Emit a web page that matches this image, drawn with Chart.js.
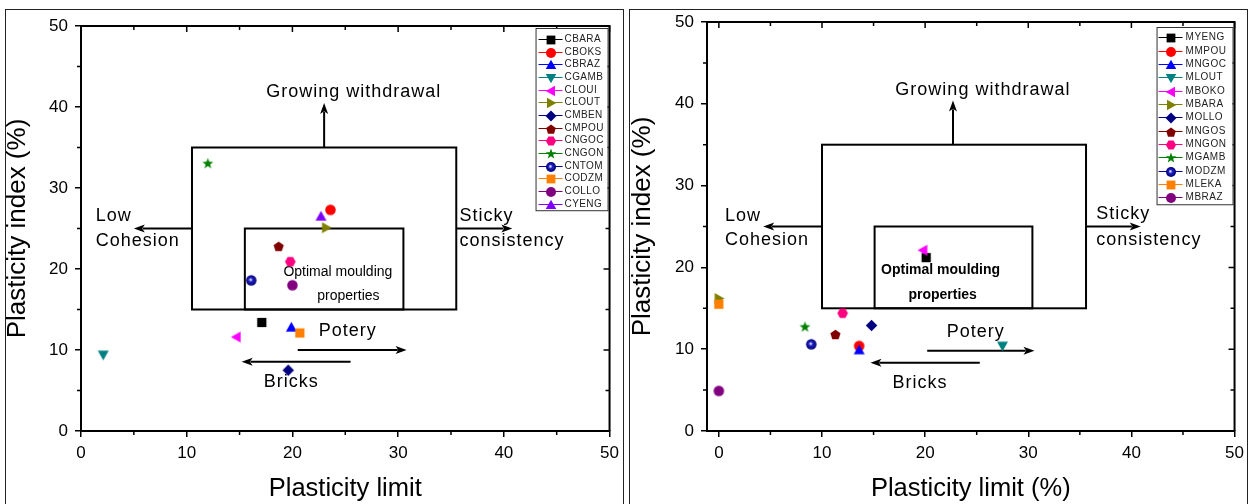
<!DOCTYPE html>
<html><head><meta charset="utf-8">
<script src="https://cdn.jsdelivr.net/npm/chart.js@4.4.0/dist/chart.umd.min.js"></script>
<style>
html,body{margin:0;padding:0;background:#fff;width:1250px;height:504px;overflow:hidden;}
.frame{position:absolute;border:1px solid #222;box-sizing:border-box;}
.cv{position:absolute;top:0;height:504px;width:625px;}
canvas{display:block;}
</style></head><body>
<div class="frame" style="left:5px;top:9px;width:619px;height:500px"></div>
<div class="frame" style="left:629px;top:9px;width:619px;height:500px"></div>
<div class="cv" style="left:0"><canvas id="c1" width="625" height="504"></canvas></div>
<div class="cv" style="left:625px"><canvas id="c2" width="625" height="504"></canvas></div>
<script>
// ---------- data ----------
const leftNames = ['CBARA','CBOKS','CBRAZ','CGAMB','CLOUI','CLOUT','CMBEN','CMPOU','CNGOC','CNGON','CNTOM','CODZM','COLLO','CYENG'];
const leftPL    = [17.1, 23.6, 19.9, 2.1, 14.7, 23.2, 19.6, 18.7, 19.8, 12.0, 16.1, 20.7, 20.0, 22.7];
const leftPI    = [13.4, 27.3, 12.8, 9.4, 11.6, 25.1, 7.5, 22.8, 20.9, 33.0, 18.6, 12.1, 18.0, 26.5];

const rightNames = ['MYENG','MMPOU','MNGOC','MLOUT','MBOKO','MBARA','MOLLO','MNGOS','MNGON','MGAMB','MODZM','MLEKA','MBRAZ'];
const rightPL    = [20.1, 13.6, 13.6, 27.5, 19.8, 0.0, 14.8, 11.3, 12.0, 8.35, 8.96, 0.0, 0.0];
const rightPI    = [21.2, 10.4, 9.9, 10.4, 22.1, 16.2, 12.9, 11.8, 14.4, 12.7, 10.6, 15.5, 4.9];

const xTicks = [0, 10, 20, 30, 40, 50];
const yTicks = [0, 10, 20, 30, 40, 50];

// ---------- styles ----------
const FONT = "'Liberation Sans', Arial, sans-serif";
const leftShapes = ['square','circle','triangle','triDown','triLeft','triRight','diamond','pentagon','hexagon','star','sphere','square','circle','triangle'];
const leftColors = ['#000000','#FF0000','#0000FF','#008080','#FF00FF','#808000','#000080','#800000','#FF0080','#008000','#0000A0','#FF8000','#800080','#8000FF'];
const rightShapes = ['square','circle','triangle','triDown','triLeft','triRight','diamond','pentagon','hexagon','star','sphere','square','circle'];
const rightColors = ['#000000','#FF0000','#0000FF','#008080','#FF00FF','#808000','#000080','#800000','#FF0080','#008000','#0000A0','#FF8000','#800080'];

function polyPts(g, pts){ g.moveTo(pts[0][0],pts[0][1]); for(let i=1;i<pts.length;i++) g.lineTo(pts[i][0],pts[i][1]); g.closePath(); }
function regPoly(cx,cy,r,n,start){ const p=[]; for(let k=0;k<n;k++){const a=(start+360*k/n)*Math.PI/180; p.push([cx+r*Math.cos(a),cy+r*Math.sin(a)]);} return p; }
function makeMarker(shape,color,s){
  const size = Math.ceil(s)+4;
  const c=document.createElement('canvas'); c.width=size; c.height=size;
  const g=c.getContext('2d'); const cx=size/2, cy=size/2, r=s/2;
  g.fillStyle=color; g.beginPath();
  switch(shape){
    case 'square': g.rect(cx-r*0.88,cy-r*0.88,1.76*r,1.76*r); break;
    case 'circle': g.arc(cx,cy,r,0,2*Math.PI); break;
    case 'triangle': polyPts(g,[[cx,cy-r*1.05],[cx+r*1.05,cy+r*0.8],[cx-r*1.05,cy+r*0.8]]); break;
    case 'triDown': polyPts(g,[[cx-r*1.05,cy-r*0.8],[cx+r*1.05,cy-r*0.8],[cx,cy+r*1.05]]); break;
    case 'triLeft': polyPts(g,[[cx-r*1.05,cy],[cx+r*0.8,cy-r*1.05],[cx+r*0.8,cy+r*1.05]]); break;
    case 'triRight': polyPts(g,[[cx+r*1.05,cy],[cx-r*0.8,cy-r*1.05],[cx-r*0.8,cy+r*1.05]]); break;
    case 'diamond': polyPts(g,[[cx,cy-r*1.1],[cx+r*1.1,cy],[cx,cy+r*1.1],[cx-r*1.1,cy]]); break;
    case 'pentagon': polyPts(g,regPoly(cx,cy+0.5,r*1.02,5,-90)); break;
    case 'hexagon': polyPts(g,regPoly(cx,cy,r*1.02,6,0)); break;
    case 'star': { const p=[]; for(let k=0;k<10;k++){const a=(-90+36*k)*Math.PI/180; const rr=(k%2===0)?r*1.1:r*0.45; p.push([cx+rr*Math.cos(a),cy+rr*Math.sin(a)]);} polyPts(g,p); break; }
    case 'sphere': {
      const gr=g.createRadialGradient(cx-r*0.15,cy-r*0.15,0,cx,cy,r);
      gr.addColorStop(0,'#ffffff'); gr.addColorStop(0.18,'#a0a0ff'); gr.addColorStop(0.4,'#2020c0'); gr.addColorStop(1,'#000070');
      g.fillStyle=gr; g.arc(cx,cy,r,0,2*Math.PI); break; }
  }
  g.fill();
  return c;
}

// ---------- plugins ----------
const annotPlugin = {
  id:'annot',
  beforeDatasetsDraw(chart,args,o){
    const {ctx, scales:{x,y}} = chart;
    const X=v=>x.getPixelForValue(v), Y=v=>y.getPixelForValue(v);
    ctx.save();
    ctx.strokeStyle='#000'; ctx.fillStyle='#000'; ctx.lineWidth=2;
    (o.boxes||[]).forEach(b=>{ ctx.strokeRect(X(b[0]),Y(b[3]),X(b[2])-X(b[0]),Y(b[1])-Y(b[3])); });
    (o.arrows||[]).forEach(a=>{
      const x0=X(a[0]),y0=Y(a[1]),x1=X(a[2]),y1=Y(a[3]);
      const dx=x1-x0, dy=y1-y0, L=Math.hypot(dx,dy), ux=dx/L, uy=dy/L;
      const hl=11, hw=4;
      ctx.beginPath(); ctx.moveTo(x0,y0); ctx.lineTo(x1-ux*hl*0.8,y1-uy*hl*0.8); ctx.stroke();
      ctx.beginPath(); ctx.moveTo(x1,y1); ctx.lineTo(x1-ux*hl-uy*hw,y1-uy*hl+ux*hw); ctx.lineTo(x1-ux*hl*0.75,y1-uy*hl*0.75); ctx.lineTo(x1-ux*hl+uy*hw,y1-uy*hl-ux*hw); ctx.closePath(); ctx.fill();
    });
    (o.texts||[]).forEach(t=>{
      ctx.font=t.font; ctx.letterSpacing=t.ls||'0px'; ctx.textAlign=t.align||'center'; ctx.textBaseline='middle';
      ctx.fillStyle='#000'; ctx.fillText(t.text,X(t.x),Y(t.y));
    });
    ctx.restore();
  }
};
const framePlugin = {
  id:'frame',
  afterDatasetsDraw(chart){
    const {ctx, chartArea:ca, scales:{x,y}} = chart;
    ctx.save(); ctx.strokeStyle='#000';
    ctx.lineWidth=2;
    ctx.beginPath(); ctx.moveTo(ca.left,ca.top); ctx.lineTo(ca.right,ca.top); ctx.lineTo(ca.right,ca.bottom); ctx.stroke();
    ctx.lineWidth=1.5;
    const minor=a=>a.slice(0,-1).map((v,i)=>(v+a[i+1])/2);
    ctx.beginPath();
    xTicks.forEach(v=>{const p=x.getPixelForValue(v); ctx.moveTo(p,ca.top); ctx.lineTo(p,ca.top+6);});
    minor(xTicks).forEach(v=>{const p=x.getPixelForValue(v); ctx.moveTo(p,ca.top); ctx.lineTo(p,ca.top+4); ctx.moveTo(p,ca.bottom); ctx.lineTo(p,ca.bottom+4);});
    yTicks.forEach(v=>{const p=y.getPixelForValue(v); ctx.moveTo(ca.right,p); ctx.lineTo(ca.right-6,p);});
    minor(yTicks).forEach(v=>{const p=y.getPixelForValue(v); ctx.moveTo(ca.right,p); ctx.lineTo(ca.right-4,p); ctx.moveTo(ca.left,p); ctx.lineTo(ca.left-4,p);});
    ctx.stroke();
    ctx.restore();
  }
};
const legendPlugin = {
  id:'boxLegend',
  afterDraw(chart,args,o){
    const {ctx, chartArea:ca} = chart;
    const ds=chart.data.datasets, n=ds.length;
    const bx=ca.right-o.right-o.width, by=ca.top+o.top;
    const h=o.first+o.step*(n-1)+o.tail;
    ctx.save();
    ctx.fillStyle='#fff'; ctx.fillRect(bx,by,o.width,h);
    ctx.strokeStyle='#333'; ctx.lineWidth=1; ctx.strokeRect(bx+0.5,by+0.5,o.width,h);
    ctx.font='10px '+FONT; ctx.letterSpacing=o.ls; ctx.textAlign='left'; ctx.textBaseline='middle';
    ds.forEach((d,i)=>{
      const yy=Math.round(by+o.first+o.step*i)+0.5;
      ctx.strokeStyle=d.borderColor; ctx.lineWidth=1;
      ctx.beginPath(); ctx.moveTo(bx+o.lineX0,yy); ctx.lineTo(bx+o.lineX1,yy); ctx.stroke();
      const m=d.legendMarker; ctx.drawImage(m,Math.round(bx+o.markX-m.width/2),Math.round(yy-m.height/2));
      ctx.fillStyle='#222'; ctx.fillText(d.label,bx+o.textX,yy);
    });
    ctx.restore();
  }
};

function makeChart(id,names,xs,ys,shapes,colors,cfg){
  const datasets=names.map((n,i)=>({
    label:n, data:[{x:xs[i],y:ys[i]}],
    pointStyle:makeMarker(shapes[i],colors[i],10.5),
    legendMarker:makeMarker(shapes[i],colors[i],10),
    backgroundColor:colors[i], borderColor:colors[i], pointRadius:5, order:-i
  }));
  return new Chart(document.getElementById(id),{
    type:'scatter',
    data:{datasets},
    options:{
      responsive:false, animation:false, events:[],
      layout:{padding:{left:0,right:cfg.padRight,top:cfg.padTop,bottom:0}},
      plugins:{legend:{display:false}, tooltip:{enabled:false}, annot:cfg.annot, boxLegend:cfg.legend},
      scales:{
        x:{type:'linear', position:'bottom', min:cfg.xMin, max:50,
           afterBuildTicks:s=>{s.ticks=xTicks.map(v=>({value:v}));},
           afterFit:s=>{s.height=cfg.xH;},
           grid:{drawOnChartArea:false, drawTicks:true, tickLength:6, color:'#000', lineWidth:1.5},
           border:{display:true,color:'#000',width:2},
           ticks:{color:'#000', font:{family:FONT,size:17}, padding:6, maxRotation:0, autoSkip:false},
           title:{display:true, text:cfg.xTitle, color:'#000', font:{family:FONT,size:cfg.xTitleSize}, padding:{top:0,bottom:0}}},
        y:{type:'linear', position:'left', min:0, max:50,
           afterBuildTicks:s=>{s.ticks=yTicks.map(v=>({value:v}));},
           afterFit:s=>{s.width=cfg.yW;},
           grid:{drawOnChartArea:false, drawTicks:true, tickLength:6, color:'#000', lineWidth:1.5},
           border:{display:true,color:'#000',width:2},
           ticks:{color:'#000', font:{family:FONT,size:17}, padding:7, autoSkip:false},
           title:{display:true, text:'Plasticity index (%)', color:'#000', font:{family:FONT,size:26}, padding:{top:2,bottom:0}}}
      }
    },
    plugins:[annotPlugin, framePlugin, legendPlugin]
  });
}

const big='18px '+FONT;
makeChart('c1',leftNames,leftPL,leftPI,leftShapes,leftColors,{
  xMin:0, padRight:15, padTop:26, xH:73, yW:81, xTitle:'Plasticity limit', xTitleSize:25.5,
  legend:{right:2, top:2, width:72, first:11, step:12.67, tail:6.5, lineX0:3, lineX1:27, markX:15, textX:29, ls:'0.4px'},
  annot:{
    boxes:[[10.5,15,35.5,35],[15.5,15,30.5,25]],
    arrows:[[23.0,35,23.0,40.5],[10.5,25,5.0,25],[35.5,25,40.8,25],[20.5,10.0,30.8,10.0],[25.5,8.55,15.2,8.55]],
    texts:[
      {text:'Growing withdrawal',x:25.8,y:41.9,font:big,ls:'1px'},
      {text:'Low',x:1.4,y:26.5,font:big,ls:'1px',align:'left'},
      {text:'Cohesion',x:1.4,y:23.5,font:big,ls:'1px',align:'left'},
      {text:'Sticky',x:35.8,y:26.5,font:big,ls:'1px',align:'left'},
      {text:'consistency',x:35.8,y:23.5,font:big,ls:'1px',align:'left'},
      {text:'Optimal moulding',x:24.3,y:19.6,font:'14px '+FONT},
      {text:'properties',x:25.3,y:16.7,font:'14px '+FONT},
      {text:'Potery',x:22.5,y:12.3,font:big,ls:'1px',align:'left'},
      {text:'Bricks',x:19.9,y:6.0,font:big,ls:'1px'}
    ]
  }
});
makeChart('c2',rightNames,rightPL,rightPI,rightShapes,rightColors,{
  xMin:-1.15, padRight:9, padTop:22, xH:73, yW:82, xTitle:'Plasticity limit (%)', xTitleSize:25.5,
  legend:{right:2, top:5, width:76, first:10.3, step:13.33, tail:7, lineX0:2, lineX1:26, markX:14, textX:29, ls:'0.5px'},
  annot:{
    boxes:[[10.0,15,35.6,35],[15.1,15,30.4,25]],
    arrows:[[22.7,35,22.7,40.4],[10.0,25,4.3,25],[35.6,25,40.9,25],[20.2,9.8,30.6,9.8],[25.3,8.35,14.7,8.35]],
    texts:[
      {text:'Growing withdrawal',x:25.6,y:41.7,font:big,ls:'1px'},
      {text:'Low',x:0.6,y:26.3,font:big,ls:'1px',align:'left'},
      {text:'Cohesion',x:0.6,y:23.3,font:big,ls:'1px',align:'left'},
      {text:'Sticky',x:36.6,y:26.5,font:big,ls:'1px',align:'left'},
      {text:'consistency',x:36.6,y:23.4,font:big,ls:'1px',align:'left'},
      {text:'Optimal moulding',x:21.5,y:19.7,font:'bold 14px '+FONT},
      {text:'properties',x:21.7,y:16.6,font:'bold 14px '+FONT},
      {text:'Potery',x:24.9,y:12.05,font:big,ls:'1px'},
      {text:'Bricks',x:19.5,y:5.9,font:big,ls:'1px'}
    ]
  }
});
</script>
</body></html>
